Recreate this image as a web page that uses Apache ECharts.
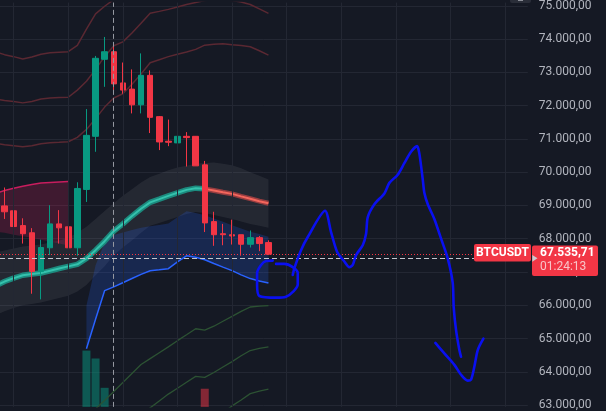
<!DOCTYPE html>
<html>
<head>
<meta charset="utf-8">
<script src="https://cdn.jsdelivr.net/npm/echarts@6/dist/echarts.min.js"></script>
<style>
html,body{margin:0;padding:0;background:#151924;}
#c{width:606px;height:411px;}
</style>
</head>
<body>
<div id="c"></div>
<script>
// ---- data ----
const categoryCount = 58;
const categories = Array.from({length: categoryCount}, (_, i) => String(i + 1));
const open  = [68988,68840,68396,68180,67018,67728,68447,68358,67728,69482,71080,73396,73624,72686,72500,72027,72914,71672,70932,70882,71080,71080,70222,68515,68151,68121,68121,67834,68033,67885];
const close = [68811,68367,68151,67018,67737,68447,68328,67728,69512,71109,73426,73624,72657,72470,72027,72914,71651,70911,70902,71080,71041,70192,68476,68121,68121,68083,67834,68033,67855,67535.71];
const low   = [68595,68219,67855,66346,66177,67509,67855,67432,67491,69106,70615,72568,72361,72361,71769,71769,71178,70666,70784,70349,70172,70190,68201,67787,67805,67825,67491,67737,67627,67509];
const high  = [69541,69284,68615,68319,67973,69009,68861,68920,69698,71899,73497,74068,73772,73299,73092,73574,73062,71690,71583,71435,71207,71090,70340,68811,68447,68574,68125,68248,68083,67953];
const volume = [40,35,30,45,50,38,30,42,55,188,171,108,50,40,35,45,38,30,25,30,28,35,106,45,30,25,30,20,25,30];

// indicator lines (start index, values per bar)
const redBand1Start = -1;
const redBand1 = [73624,73536,73476,73408,73468,73550,73595,73610,73624,73817,74305,74763,74991,75192,75281,75518,75843,76169,76228,76287,76346,76406,76465,76524,76553,76553,76524,76465,76406,76287,76109];
const redBand2Start = -1;
const redBand2 = [72204,72160,72130,72086,72130,72204,72234,72249,72255,72470,72737,73092,73476,73802,73920,74186,74482,74778,74837,74897,74970,75044,75104,75163,75192,75192,75163,75118,75044,74911,74778];
const redBand3Start = -1;
const redBand3 = [70873,70828,70799,70769,70799,70858,70888,70902,70917,71050,71287,71612,71959,72234,72361,72648,72956,73290,73385,73476,73547,73618,73695,73822,73846,73864,73831,73808,73772,73654,73521];
const green1Start = 8;
const green1 = [62352,62618,62885,63139,63408,63678,63947,64216,64394,64571,64749,64935,65112,65293,65252,65370,65518,65666,65814,65947,65976,65991];
const green2Start = 14;
const green2 = [62500,62707,62914,63121,63328,63506,63683,63861,63831,63979,64142,64305,64482,64639,64704,64749];
const green3Start = 22;
const green3 = [62352,62559,62766,62973,63151,63343,63417,63476];
const blueStart = 9;
const blueLow  = [64689,65577,66441,66553,66678,66805,66929,67036,67065,67101,67302,67488,67441,67367,67257,67148,67041,66914,66802,66731,66672];
const blueHigh = [65991,67204,67885,68112,68186,68260,68334,68376,68414,68456,68645,68828,68775,68704,68607,68509,68408,68311,68213,68142,68062];
const tealStart = -1;
const teal = [66583,66713,66814,66902,66941,66967,67036,67104,67169,67231,67405,67657,67926,68228,68447,68683,68902,69095,69192,69290,69382,69470,69521,69500];
const redTrendStart = 22;
const redTrend = [69500,69450,69399,69349,69275,69204,69130,69068];
const grayStart = -1;
const grayTop    = [67589,67648,67707,67766,67796,67825,67885,67944,68033,68181,68358,68595,68831,69068,69296,69491,69689,69855,69956,70059,70139,70192,70252,70281,70290,70252,70207,70118,70000,69896,69778];
const grayBottom = [65695,65820,65914,66000,66039,66080,66148,66219,66287,66414,66612,66902,67175,67500,67737,67944,68181,68388,68476,68565,68654,68743,68802,68772,68713,68654,68595,68521,68447,68388,68328];
const maroonStart = -1;
const maroonTop    = [69364,69450,69518,69580,69630,69678,69695,69707,69719];
const maroonBottom = [68210,68181,68121,68077,68033,67973,67914,67855,67796];

// hand-drawn strokes (bar position, price)
const circleX = [29.47,28.74,28.19,27.75,27.75,28.0,29.84,30.93,31.78,32.22,32.22,31.67,30.75,29.84];
const circleP = [67343,67331,67213,66967,66621,66278,66228,66257,66426,66621,66967,67145,67243,67243];
const mainX = [31.67,31.85,32.58,33.32,35.22,35.88,36.54,37.34,37.89,38.26,38.63,39.36,39.73,39.91,40.64,41.74,42.29,43.21,43.93,44.67,45.33,45.58,45.96,46.13,46.51,47.23,47.97,48.70,49.25,49.36,49.62,49.98,50.16];
const mainP = [66908,67115,67657,68053,68840,68201,67609,67314,67145,67213,67509,67805,68151,68645,69038,69364,69680,69926,70272,70615,70784,70568,69778,69385,69038,68595,68003,67411,66672,65932,65243,64651,64452];
const arrowX = [47.34,48.33,49.43,50.16,50.90,51.26,51.63,52.0,52.62];
const arrowP = [64867,64550,64207,63911,63734,63763,64157,64651,64994];

const vGridBars = [1,7,13,19,25,31,37,43,49,55];
const crossBar = 12;
const crossPrice = 67411;
const lastPrice = close[close.length - 1];
const symbol = 'BTCUSDT';
const countdown = '01:24:13';
const priceRange = {min: 62943.8, max: 75103.6};
const priceTicks = [63000,64000,65000,66000,67000,68000,69000,70000,71000,72000,73000,74000,75000];
const volumeRange = {min: 67, max: 936};

// ---- helpers ----
function fmt(v, dec) {
  const neg = v < 0; v = Math.abs(v);
  const s = v.toFixed(dec);
  let [ip, fp] = s.split('.');
  ip = ip.replace(/\B(?=(\d{3})+(?!\d))/g, '.');
  return (neg ? '-' : '') + ip + (fp ? ',' + fp : '');
}
const pts = (start, arr) => arr.map((v, i) => [start + i, v]);
const zip = (xs, ps) => xs.map((x, i) => [x, ps[i]]);

function lineS(data, color, width, z, extra) {
  return Object.assign({
    type: 'line', xAxisIndex: 1, yAxisIndex: 0, data: data, showSymbol: false, symbol: 'none',
    silent: true, z: z, clip: true, animation: false,
    lineStyle: {color: color, width: width}
  }, extra || {});
}
function bandS(start, top, bottom, fill, z) {
  return {
    type: 'custom', xAxisIndex: 1, yAxisIndex: 0, silent: true, z: z, clip: true, animation: false,
    data: [[0, 70000]],
    renderItem: function (params, api) {
      const p = [];
      top.forEach((v, i) => p.push(api.coord([start + i, v])));
      for (let i = bottom.length - 1; i >= 0; i--) p.push(api.coord([start + i, bottom[i]]));
      return {type: 'polygon', shape: {points: p}, style: {fill: fill}};
    }
  };
}

const candleData = open.map((o, i) => [o, close[i], low[i], high[i]]);
const volData = volume.map((v, i) => ({
  value: v,
  itemStyle: {color: close[i] >= open[i] ? 'rgba(8,153,129,0.5)' : 'rgba(242,54,69,0.5)'}
}));

const chart = echarts.init(document.getElementById('c'), null, {renderer: 'canvas'});
const option = {
  backgroundColor: '#151924',
  animation: false,
  grid: {left: 0, right: 78.2, top: 0, bottom: 0, containLabel: false},
  xAxis: [
    {type: 'category', data: categories, boundaryGap: true, show: false},
    {type: 'value', min: -0.5, max: categoryCount - 0.5, show: false}
  ],
  yAxis: [
    {
      type: 'value', position: 'right', min: priceRange.min, max: priceRange.max,
      axisLine: {show: false},
      axisTick: {show: false, customValues: priceTicks},
      splitLine: {show: true, lineStyle: {color: '#232733', width: 1}},
      axisLabel: {color: '#b2b5be', fontSize: 12, fontFamily: 'Roboto', margin: 11,
        customValues: priceTicks, showMinLabel: true, showMaxLabel: true,
        formatter: v => fmt(v, 2)}
    },
    {type: 'value', min: volumeRange.min, max: volumeRange.max, show: false}
  ],
  series: [
    // vertical grid lines
    {
      type: 'line', xAxisIndex: 1, yAxisIndex: 0, data: [[0, 70000]], symbol: 'none',
      lineStyle: {opacity: 0}, silent: true, z: 0,
      markLine: {silent: true, symbol: ['none', 'none'], label: {show: false}, animation: false,
        lineStyle: {color: '#232733', width: 1, type: 'solid'},
        data: vGridBars.map(b => ({xAxis: b}))}
    },
    bandS(grayStart, grayTop, grayBottom, 'rgba(255,255,255,0.065)', 1),
    bandS(maroonStart, maroonTop, maroonBottom, 'rgba(233,30,99,0.2)', 1),
    bandS(blueStart, blueHigh, blueLow, 'rgba(41,98,255,0.2)', 1),
    {
      type: 'bar', xAxisIndex: 0, yAxisIndex: 1, data: volData, barWidth: 8, silent: true, z: 1, clip: true
    },
    lineS(pts(redBand1Start, redBand1), '#5a2832', 1.5, 2),
    lineS(pts(redBand2Start, redBand2), '#5a2832', 1.5, 2),
    lineS(pts(redBand3Start, redBand3), '#5a2832', 1.5, 2),
    lineS(pts(green1Start, green1), '#2c5233', 1.3, 2),
    lineS(pts(green2Start, green2), '#2c5233', 1.3, 2),
    lineS(pts(green3Start, green3), '#2c5233', 1.3, 2),
    lineS(pts(maroonStart, maroonTop), '#c81d5e', 1.5, 2),
    lineS(pts(blueStart, blueLow), '#2962ff', 1.5, 2),
    lineS(pts(tealStart, teal), '#1c8a7e', 5.5, 2),
    lineS(pts(tealStart, teal), '#34c2ad', 2, 2),
    lineS(pts(redTrendStart, redTrend), 'rgba(200,70,70,0.7)', 5, 2),
    lineS(pts(redTrendStart, redTrend), '#f4665c', 2, 2),
    {
      type: 'candlestick', xAxisIndex: 0, yAxisIndex: 0, data: candleData, barWidth: 6, z: 3, silent: true,
      itemStyle: {color: '#089981', color0: '#f23645', borderColor: '#089981', borderColor0: '#f23645', borderWidth: 1},
      markLine: {silent: true, symbol: ['none', 'none'], label: {show: false}, animation: false,
        lineStyle: {color: '#f23645', width: 1, type: [1, 2]},
        data: [{yAxis: lastPrice}]}
    },
    // crosshair
    {
      type: 'line', xAxisIndex: 1, yAxisIndex: 0, data: [[0, 70000]], symbol: 'none',
      lineStyle: {opacity: 0}, silent: true, z: 4,
      markLine: {silent: true, symbol: ['none', 'none'], label: {show: false}, animation: false,
        data: [
          {xAxis: crossBar, lineStyle: {color: '#9598a1', width: 1, type: [5, 3]}},
          {yAxis: crossPrice, lineStyle: {color: '#c3c6ce', width: 1, type: [5, 3]}}
        ]}
    },
    // hand drawn strokes
    lineS(zip(circleX, circleP), '#0a10f0', 2.6, 6, {smooth: 0.3, lineStyle: {color: '#0a10f0', width: 2.6, cap: 'round', join: 'round'}}),
    lineS(zip(mainX, mainP), '#0a10f0', 2.6, 6, {smooth: 0.25, lineStyle: {color: '#0a10f0', width: 2.6, cap: 'round', join: 'round'}}),
    lineS(zip(arrowX, arrowP), '#0a10f0', 2.6, 6, {smooth: 0.3, lineStyle: {color: '#0a10f0', width: 2.6, cap: 'round', join: 'round'}})
  ]
};
chart.setOption(option);

const py = chart.convertToPixel({yAxisIndex: 0}, lastPrice);
const cy = chart.convertToPixel({yAxisIndex: 0}, crossPrice);
chart.setOption({
  graphic: [
    {type: 'rect', left: 510, top: -8, shape: {width: 21, height: 11, r: 2}, style: {fill: '#2a2e39'}, z: 10},
    {type: 'rect', left: 518, top: -2, shape: {width: 5, height: 3}, style: {fill: '#8a8d96'}, z: 11},
    {type: 'rect', x: 474, y: py - 10.1, shape: {x: 0, y: 0, width: 57, height: 17.3, r: 2}, style: {fill: '#f23645'}, z: 10},
    {type: 'text', x: 502.5, y: py - 1.3, style: {text: symbol, fill: '#ffffff', font: 'bold 12px Roboto', align: 'center', verticalAlign: 'middle'}, z: 11},
    {type: 'rect', x: 532, y: py - 8.8, shape: {x: 0, y: 0, width: 66, height: 30.5, r: 2}, style: {fill: '#f23645'}, z: 10},
    {type: 'text', x: 540, y: py - 1.3, style: {text: fmt(lastPrice, 2), fill: '#ffffff', font: 'bold 12px Roboto', align: 'left', verticalAlign: 'middle'}, z: 11},
    {type: 'text', x: 540, y: py + 12.6, style: {text: countdown, fill: '#f8c4c8', font: '12px Roboto', align: 'left', verticalAlign: 'middle'}, z: 11},
    {type: 'polygon', shape: {points: [[532.3, cy - 3.4], [537.5, cy], [532.3, cy + 3.4]]}, style: {fill: '#c9cbd1'}, z: 12}
  ]
});
</script>
</body>
</html>
